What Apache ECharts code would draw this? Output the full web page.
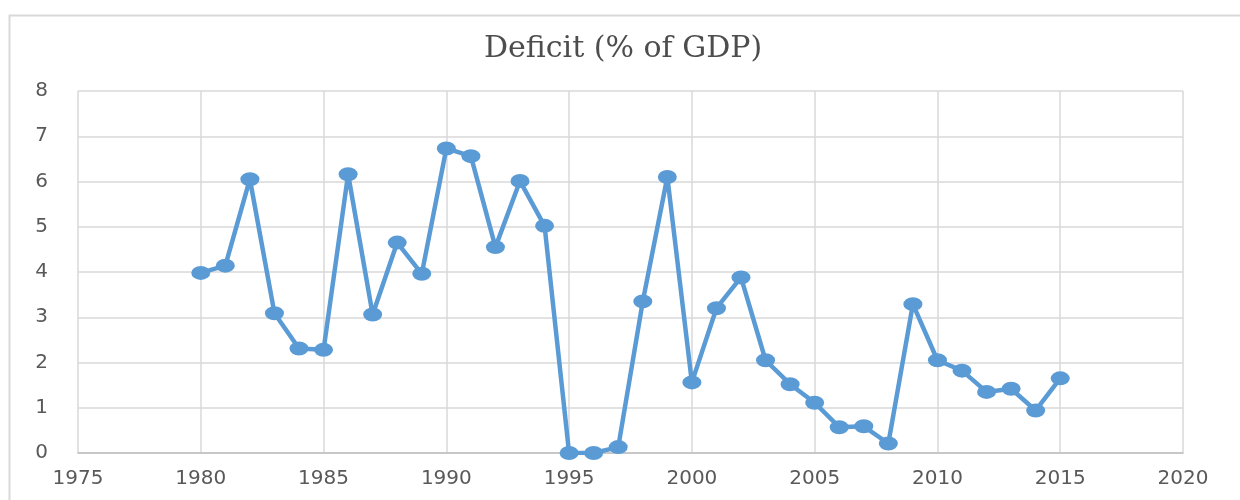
<!DOCTYPE html>
<html>
<head>
<meta charset="utf-8">
<script src="https://cdn.jsdelivr.net/npm/echarts@6/dist/echarts.min.js"></script>
<style>html,body{margin:0;padding:0;background:#fff;}#c{width:1240px;height:500px;}</style>
</head>
<body>
<div id="c"></div>
<script>
const titleText = "Deficit (% of GDP)";
const years = [1980,1981,1982,1983,1984,1985,1986,1987,1988,1989,1990,1991,1992,1993,1994,1995,1996,1997,1998,1999,2000,2001,2002,2003,2004,2005,2006,2007,2008,2009,2010,2011,2012,2013,2014,2015];
const deficit = [3.98,4.14,6.05,3.09,2.31,2.28,6.16,3.06,4.65,3.96,6.73,6.56,4.55,6.01,5.02,0.0,0.0,0.13,3.35,6.10,1.56,3.20,3.88,2.05,1.52,1.11,0.57,0.59,0.21,3.29,2.05,1.82,1.35,1.42,0.94,1.65];
const xMin = 1975, xMax = 2020, xStep = 5;
const yMin = 0, yMax = 8, yStep = 1;

const chart = echarts.init(document.getElementById('c'), null, {renderer:'canvas'});
chart.setOption({
  animation: false,
  backgroundColor: '#ffffff',
  graphic: [{
    type: 'rect', left: 7, top: 13, silent: true, z: -10,
    shape: {width: 1300, height: 600},
    style: {fill: 'none', stroke: '#D9D9D9', lineWidth: 2}
  }],
  title: {
    text: titleText, left: 618, top: 29, textAlign: 'center',
    textStyle: {fontFamily: 'DejaVu Serif', fontWeight: 'normal', fontSize: 30, color: '#4d4d4d'}
  },
  grid: {left: 78, right: 57, top: 91, bottom: 47, containLabel: false},
  xAxis: {
    type: 'value', min: xMin, max: xMax, interval: xStep,
    axisLine: {show: true, lineStyle: {color: '#BFBFBF', width: 1.5}},
    axisTick: {show: false},
    splitLine: {show: true, lineStyle: {color: '#D9D9D9', width: 1.5}},
    axisLabel: {margin: 16, color: '#595959', fontFamily: 'DejaVu Sans', fontSize: 20, formatter: v => String(v)}
  },
  yAxis: {
    type: 'value', min: yMin, max: yMax, interval: yStep,
    axisLine: {show: false}, axisTick: {show: false},
    splitLine: {show: true, lineStyle: {color: '#D9D9D9', width: 1.5}},
    axisLabel: {margin: 30, color: '#595959', fontFamily: 'DejaVu Sans', fontSize: 20}
  },
  series: [{
    type: 'line',
    data: years.map((y, i) => [y, deficit[i]]),
    symbol: 'path://M1,0A1,1,0,1,1,-1,0A1,1,0,1,1,1,0Z',
    symbolSize: [19, 14],
    showAllSymbol: true,
    lineStyle: {color: '#5B9BD5', width: 4.5},
    itemStyle: {color: '#5B9BD5'}
  }]
});
</script>
</body>
</html>
